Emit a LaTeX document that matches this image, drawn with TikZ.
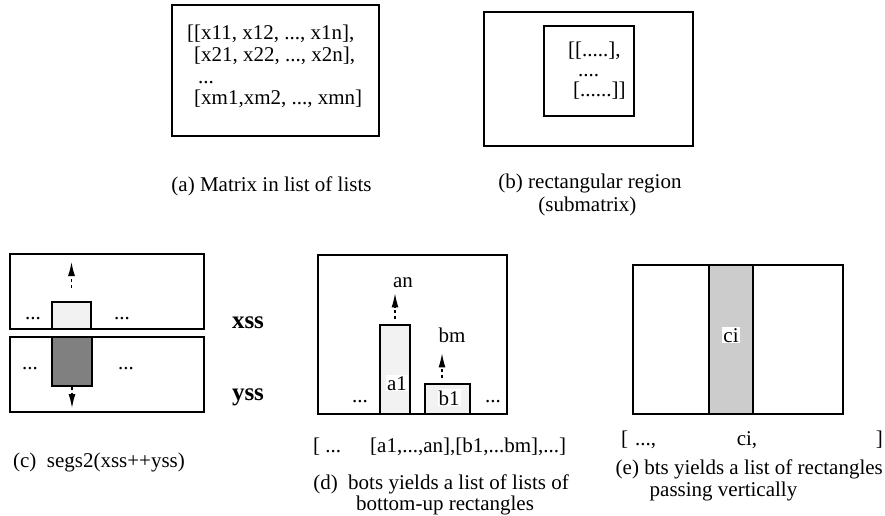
\documentclass[tikz,border=0pt]{standalone}
\usepackage{fontspec}
\setmainfont{Liberation Serif}
\usetikzlibrary{arrows.meta}
\usetikzlibrary{positioning}
\tikzset{> = {Latex[length = 14pt, width = 7pt]},
  frame/.style = {draw, line width = 1.1pt, inner sep = 0pt},
  txt/.style = {font = \fontsize{21}{21.7}\selectfont, inner sep = 0pt, anchor = base},
  tag/.style = {txt, fill = white, inner sep = 1pt},
  heavy/.style = {font = \fontsize{25}{28}\selectfont\bfseries, inner sep = 0pt, anchor = base},
  flow/.style = {-{Latex[length = 14pt, width = 7pt, sep = 0pt]}, dashed, line width = 1.2pt}}

\begin{document}
\begin{tikzpicture}[x = 1pt, y = -1pt]
  \useasboundingbox (0,0) rectangle (885,516);
  % (a) matrix
  \node [frame, minimum width = 207pt, minimum height = 131pt] (mtxbox) at (275.5,70.5) {};
  \node [txt, anchor = base west, align = left] (mtx) at (187,105)
    {[[x11, x12, ..., x1n],\\\phantom{[}[x21, x22, ..., x2n],\\\hspace*{11pt}...\\\phantom{[}[xm1,xm2, ..., xmn]};
  \node [txt] (capa) at (271.5,191) {(a) Matrix in list of lists};
  % (b) submatrix
  \node [frame, minimum width = 209pt, minimum height = 134pt] (regbox) at (588.5,79) {};
  \node [frame, minimum width = 90pt, minimum height = 90pt] (subbox) at (589,71) {};
  \node [txt, anchor = base west, align = left, font = \fontsize{21}{20}\selectfont] (sub) at (568,97)
    {[[.....],\\\hspace*{10pt}....\\\hspace*{5pt}[......]]};
  \node [txt] (capb1) at (590,188) {(b) rectangular region};
  \node [txt, anchor = base west] (capb2) at ([xshift = 40pt, yshift = -23pt]capb1.base west) {(submatrix)};
  % (c) segs2
  \node [frame, minimum width = 194pt, minimum height = 75pt] (xsbox) at (107,291.5) {};
  \node [frame, minimum width = 194pt, minimum height = 75pt] (ysbox) at (107,374.5) {};
  \node [frame, fill = black!5, minimum width = 39pt, minimum height = 27pt] (xbar) at (71.5,315.5) {};
  \node [frame, fill = black!50, minimum width = 40pt, minimum height = 49pt] (ybar) at (72,361.5) {};
  \node [txt] (xl) at (33,319) {...};
  \node [txt] (xr) at (122,319) {...};
  \node [txt] (yl) at (30,369) {...};
  \node [txt] (yr) at (126,369) {...};
  \node [heavy] (xss) at (248,328) {xss};
  \node [heavy] (yss) at (248,400) {yss};
  \coordinate (xup) at (71.5,262);
  \coordinate (ydown) at (72,408);
  \draw [flow, shorten <= 13pt] (xbar.north) -- (xup);
  \draw [flow] (ybar.south) -- (ydown);
  \node [txt] (capc) at (99,467) {(c)\ \ segs2(xss++yss)};
  % (d) bots
  \node [frame, minimum width = 189pt, minimum height = 159pt] (botbox) at (412.5,334.5) {};
  \node [frame, fill = black!5, minimum width = 30pt, minimum height = 89pt] (abar) at (395,369.5) {};
  \node [frame, fill = black!5, minimum width = 45pt, minimum height = 30pt] (bbar) at (447.5,399) {};
  \node [tag] (a1) at (397,390) {a1};
  \node [tag] (b1) at (449,405) {b1};
  \node [txt] (an) at (403,287) {an};
  \node [txt] (bm) at (452,342) {bm};
  \node [txt] (dl) at (360,402) {...};
  \node [txt] (dr) at (493,402) {...};
  \draw [flow, shorten <= 5pt, shorten >= 6pt] (abar.north) -- (abar.north |- an.south);
  \draw [flow, shorten <= 5pt, shorten >= 11pt] ([xshift = -5.5pt]bbar.north) -- ([xshift = -5.5pt]bbar.north |- bm.south);
  \node [txt, anchor = base west] (dhead) at (313,452) {[ ...};
  \node [txt, anchor = base west] (dlist) at (370,452) {[a1,...,an],[b1,...bm],...]};
  \node [txt] (capd1) at (441,489) {(d)\ \ bots yields a list of lists of};
  \node [txt] (capd2) at (445,510) {bottom-up rectangles};
  % (e) bts
  \node [frame, minimum width = 210pt, minimum height = 149pt] (btsbox) at (738,339.5) {};
  \node [frame, fill = black!20, minimum width = 44pt, minimum height = 149pt] (cbar) at (731,339.5) {};
  \node [tag] (ci) at (731,342) {ci};
  \node [txt, anchor = base west] (eopen) at (621,445) {[};
  \node [txt, anchor = base west] (edots) at (635,445) {...,};
  \node [txt] (eci) at (747,445) {ci,};
  \node [txt, anchor = base east] (eclose) at (883,445) {]};
  \node [txt, anchor = base east] (cape1) at (883,474) {(e) bts yields a list of rectangles};
  \node [txt, anchor = base west] (cape2) at ([xshift = 34pt, yshift = -22pt]cape1.base west) {passing vertically};
\end{tikzpicture}
\end{document}
